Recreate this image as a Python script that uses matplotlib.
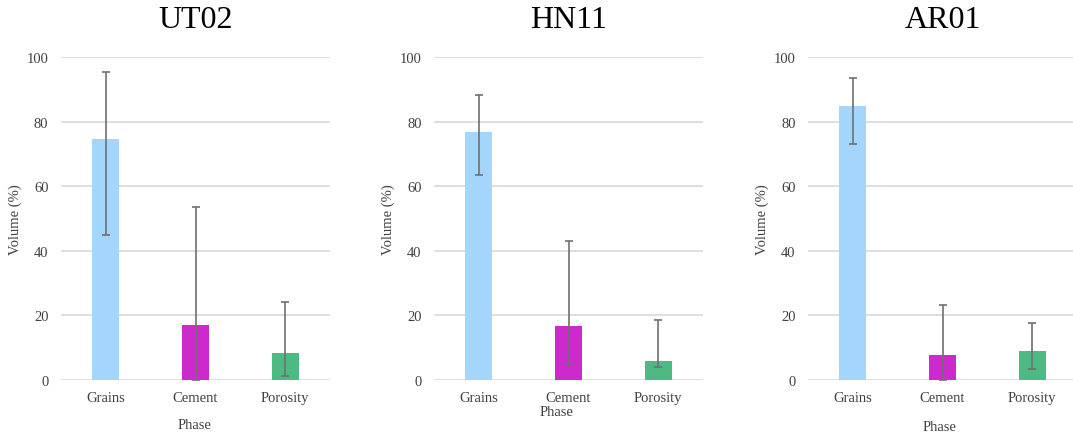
import matplotlib.pyplot as plt
import numpy as np

samples = ["UT02", "HN11", "AR01"]
phases = ["Grains", "Cement", "Porosity"]

# mean volume (%) per phase, one list per sample
means = {
    "UT02": [74.5, 17.0, 8.3],
    "HN11": [76.8, 16.6, 5.9],
    "AR01": [84.8, 7.7, 9.0],
}
# error bar ends (low, high)
err_low = {
    "UT02": [45.0, 0.0, 1.2],
    "HN11": [63.4, 5.1, 4.0],
    "AR01": [73.2, 0.0, 3.5],
}
err_high = {
    "UT02": [95.5, 53.6, 24.2],
    "HN11": [88.3, 43.1, 18.5],
    "AR01": [93.5, 23.2, 17.5],
}
colors = ["#a4d6fc", "#cc2acc", "#4dba84"]

plt.rcParams["font.family"] = ["Liberation Serif", "DejaVu Serif"]

W, H = 1073, 435
fig = plt.figure(figsize=(W / 100, H / 100), dpi=100)

# axes boxes in pixels: left, right, and where the "Phase" label sits
boxes = [(61, 330, 426), (434, 703, 413), (808, 1077, 428)]
phase_x = [195, 557, 940]
ylab_x = [15, 388, 762]
top, bottom = 58, 381

for i, s in enumerate(samples):
    l, r, py = boxes[i]
    ax = fig.add_axes([l / W, 1 - bottom / H, (r - l) / W, (bottom - top) / H])
    x = np.arange(len(phases))
    m = np.array(means[s])
    lo = m - np.array(err_low[s])
    hi = np.array(err_high[s]) - m
    ax.bar(x, m, width=0.3, color=colors, zorder=2)
    ax.errorbar(x, m, yerr=[lo, hi], fmt="none", ecolor="#707070",
                elinewidth=1.2, capsize=3, capthick=1.2, zorder=3)
    ax.set_xlim(-0.5, 2.5)
    ax.set_ylim(0, 100)
    ax.set_yticks(range(0, 101, 20))
    ax.set_xticks(x)
    ax.set_xticklabels(phases, fontsize=10.5, color="#404040")
    ax.tick_params(axis="y", labelsize=10.5, labelcolor="#404040", pad=9)
    ax.tick_params(length=0)
    ax.tick_params(axis="x", pad=8)
    ax.grid(axis="y", color="#d9d9d9", linewidth=1.2, zorder=0)
    for sp in ax.spines.values():
        sp.set_visible(False)
    fig.text(ylab_x[i] / W, 1 - (bottom + top) / 2 / H, "Volume (%)",
             rotation=90, ha="center", va="center", fontsize=10.5,
             color="#404040")
    fig.text(phase_x[i] / W, 1 - py / H, "Phase", ha="center", va="center",
             fontsize=10.5, color="#404040")
    fig.text((l + r) / 2 / W, 1 - 21 / H, s, ha="center", va="center",
             fontsize=23, color="black")

fig.savefig("out.png", dpi=100)
